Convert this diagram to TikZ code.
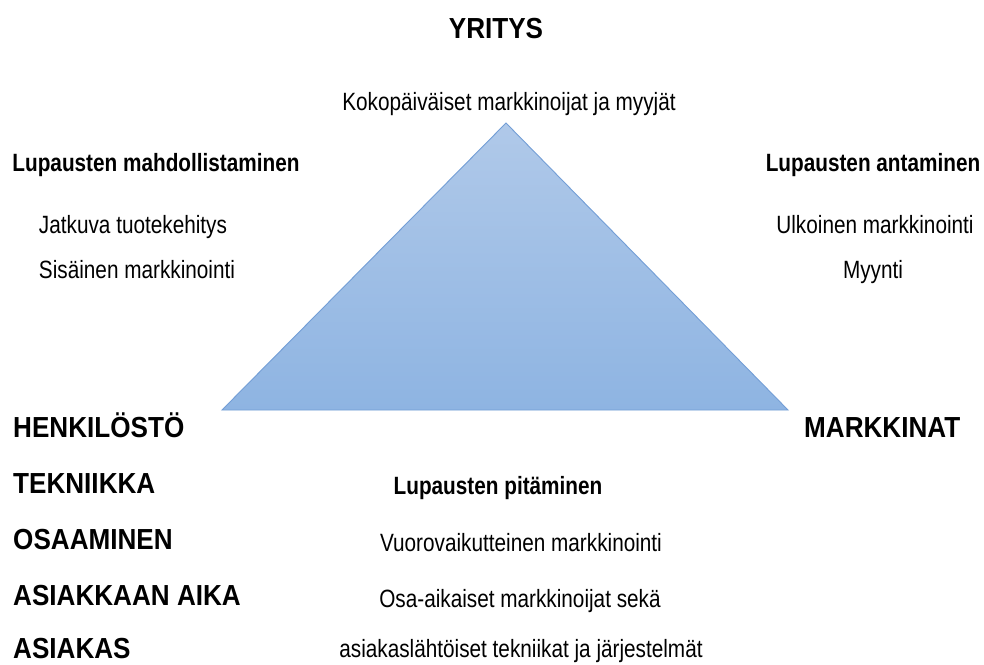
\documentclass[tikz,border=0pt]{standalone}
\usepackage{fontspec}
\setmainfont[FakeStretch=0.83]{Liberation Sans}
\newfontfamily\bigfont[FakeStretch=0.9]{Liberation Sans}
\usepackage{xcolor}
\usetikzlibrary{positioning,shadings}
\definecolor{trifilltop}{RGB}{176,201,233}
\definecolor{trifillbot}{RGB}{142,180,226}
\definecolor{triedge}{RGB}{115,158,214}

\begin{document}
\begin{tikzpicture}[x=1pt,y=-1pt,
  txt/.style={font=\fontsize{25}{30}\selectfont,inner sep=0pt,anchor=base},
  head/.style={font=\fontsize{25}{30}\selectfont\bfseries,inner sep=0pt,anchor=base},
  big/.style={font=\bigfont\fontsize{29}{34}\selectfont\bfseries,inner sep=0pt,anchor=base west}]

%% ── page ─────────────────────────────────────────────────────────────────────
\fill[white] (0,0) rectangle (984,664);
\useasboundingbox (0,0) rectangle (984,664);

%% ── triangle ─────────────────────────────────────────────────────────────────
\coordinate (apex) at (506,123);
\coordinate (lcorner) at (222,410);
\coordinate (rcorner) at (788,410);
\shade[top color=trifilltop,bottom color=trifillbot] (apex) -- (lcorner) -- (rcorner) -- cycle;
\draw[triedge,line width=0.9pt,line join=miter] (apex) -- (lcorner) -- (rcorner) -- cycle;

%% ── top corner: company ──────────────────────────────────────────────────────
\node[big,anchor=base] (yritys) at (496,38) {YRITYS};
\node[txt] (koko) at (509,110) {Kokopäiväiset markkinoijat ja myyjät};

%% ── left side ────────────────────────────────────────────────────────────────
\node[head] (mahd) at (156,171) {Lupausten mahdollistaminen};
\node[txt] (jatkuva) at (133,233) {Jatkuva tuotekehitys};
\node[txt] (sisainen) at (137,278) {Sisäinen markkinointi};

%% ── right side ───────────────────────────────────────────────────────────────
\node[head] (antam) at (873,171) {Lupausten antaminen};
\node[txt] (ulkoinen) at (875,233) {Ulkoinen markkinointi};
\node[txt] (myynti) at (873,278) {Myynti};

%% ── bottom corners ───────────────────────────────────────────────────────────
\node[big] (henk) at (13,437) {HENKILÖSTÖ};
\node[big] (tekn) at (13,493) {TEKNIIKKA};
\node[big] (osaam) at (13,549) {OSAAMINEN};
\node[big] (aika) at (13,605) {ASIAKKAAN AIKA};
\node[big] (asiakas) at (13,658) {ASIAKAS};
\node[big] (mark) at (804,437) {MARKKINAT};

%% ── bottom side: keeping promises ────────────────────────────────────────────
\node[head] (pitam) at (498,494) {Lupausten pitäminen};
\node[txt] (vuoro) at (521,551) {Vuorovaikutteinen markkinointi};
\node[txt] (osa) at (520,607) {Osa-aikaiset markkinoijat sekä};
\node[txt] (lahto) at (521,657) {asiakaslähtöiset tekniikat ja järjestelmät};

\end{tikzpicture}
\end{document}
